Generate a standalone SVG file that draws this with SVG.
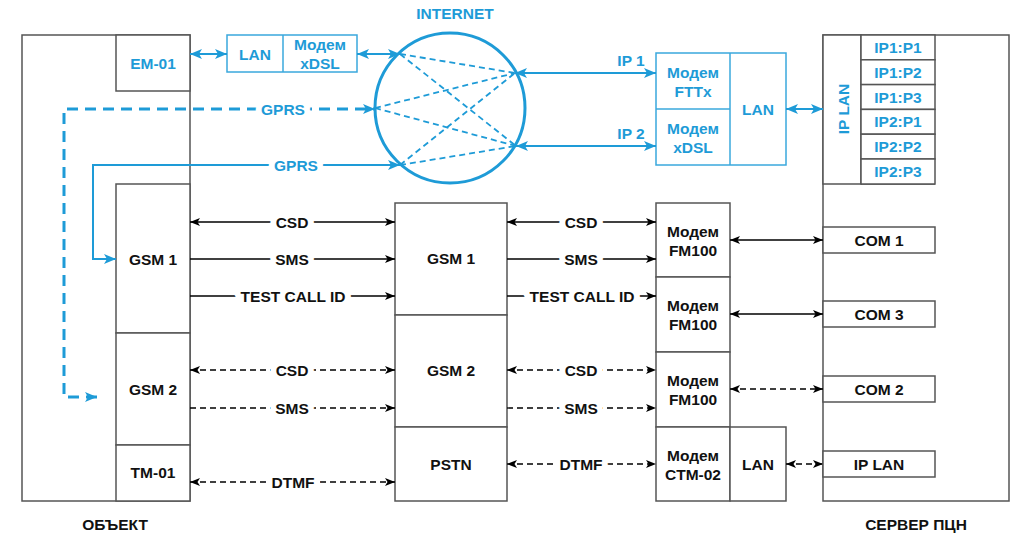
<svg xmlns="http://www.w3.org/2000/svg" width="1024" height="549" viewBox="0 0 1024 549">
<style>
text{font-family:"Liberation Sans",Arial,sans-serif;font-weight:bold;font-size:15.5px;text-anchor:middle;dominant-baseline:central}
.k{fill:#111}
.b{fill:#1e9bd7}
.box{fill:#fff;stroke:#555;stroke-width:1.5}
.bbox{fill:#fff;stroke:#3aa8dd;stroke-width:1.5}
.c{fill:none;stroke:#000;stroke-width:1.3}
.d{stroke-dasharray:6 4}
.bl{fill:none;stroke:#1e9bd7;stroke-width:2}
.bd{fill:none;stroke:#1e9bd7;stroke-width:1.8;stroke-dasharray:6 4}
.gd{fill:none;stroke:#1e9bd7;stroke-width:3;stroke-dasharray:11 7}
.lbl{paint-order:stroke;stroke:#fff;stroke-width:12px;stroke-linejoin:round}
</style>
<defs>
<marker id="ak" viewBox="0 0 10 8" refX="10" refY="4" markerWidth="10" markerHeight="8" markerUnits="userSpaceOnUse" orient="auto-start-reverse"><path d="M0,0 L10,4 L0,8 L2.5,4 z" fill="#000"/></marker>
<marker id="ab" viewBox="0 0 12 10" refX="12" refY="5" markerWidth="12" markerHeight="10" markerUnits="userSpaceOnUse" orient="auto-start-reverse"><path d="M0,0 L12,5 L0,10 L3,5 z" fill="#1e9bd7"/></marker>
</defs>
<rect width="1024" height="549" fill="#fff"/>

<g id="object">
<rect class="box" x="22" y="35" width="168" height="466"/>
<text class="k" x="115" y="524">ОБЪЕКТ</text>
</g>
<g id="em01"><rect class="box" x="116" y="35" width="74" height="56"/><text class="b" x="153" y="63">EM-01</text></g>
<g id="gsm1-obj"><rect class="box" x="116" y="184" width="74" height="149"/><text class="k" x="153" y="259">GSM 1</text></g>
<g id="gsm2-obj"><rect class="box" x="116" y="333" width="74" height="112"/><text class="k" x="153" y="389">GSM 2</text></g>
<g id="tm01"><rect class="box" x="116" y="445" width="74" height="56"/><text class="k" x="153" y="472">TM-01</text></g>

<g id="gsm1-mid"><rect class="box" x="395" y="203" width="112" height="112"/><text class="k" x="451" y="258">GSM 1</text></g>
<g id="gsm2-mid"><rect class="box" x="395" y="315" width="112" height="112"/><text class="k" x="451" y="370">GSM 2</text></g>
<g id="pstn"><rect class="box" x="395" y="427" width="112" height="74"/><text class="k" x="451" y="464">PSTN</text></g>

<g id="fm100-1"><rect class="box" x="656" y="203" width="74" height="74"/><text class="k" x="693" y="231">Модем</text><text class="k" x="693" y="250">FM100</text></g>
<g id="fm100-2"><rect class="box" x="656" y="277" width="74" height="75"/><text class="k" x="693" y="305">Модем</text><text class="k" x="693" y="324">FM100</text></g>
<g id="fm100-3"><rect class="box" x="656" y="352" width="74" height="75"/><text class="k" x="693" y="380">Модем</text><text class="k" x="693" y="399">FM100</text></g>
<g id="ctm02"><rect class="box" x="656" y="427" width="74" height="74"/><text class="k" x="693" y="455">Модем</text><text class="k" x="693" y="474">CTM-02</text></g>
<g id="lan-ctm"><rect class="box" x="730" y="427" width="56" height="74"/><text class="k" x="758" y="464">LAN</text></g>

<g id="server">
<rect class="box" x="823" y="35" width="186" height="466"/>
<text class="k" x="916" y="524">СЕРВЕР ПЦН</text>
</g>
<g id="iplan-top">
<rect class="box" x="823" y="35" width="38" height="149"/>
<line x1="861" y1="184" x2="935" y2="184" stroke="#555" stroke-width="1.5"/>
<text class="b" transform="translate(843 109) rotate(-90)">IP LAN</text>
</g>
<g id="ip-ports">
<rect class="box" x="861" y="35" width="74" height="24.8"/><text class="b" x="898" y="47.5">IP1:P1</text>
<rect class="box" x="861" y="59.8" width="74" height="24.8"/><text class="b" x="898" y="72.3">IP1:P2</text>
<rect class="box" x="861" y="84.6" width="74" height="24.8"/><text class="b" x="898" y="97.1">IP1:P3</text>
<rect class="box" x="861" y="109.4" width="74" height="24.8"/><text class="b" x="898" y="121.9">IP2:P1</text>
<rect class="box" x="861" y="134.2" width="74" height="24.8"/><text class="b" x="898" y="146.7">IP2:P2</text>
<rect class="box" x="861" y="159" width="74" height="25"/><text class="b" x="898" y="171.5">IP2:P3</text>
</g>
<g id="com1"><rect class="box" x="823" y="227" width="112" height="26"/><text class="k" x="879" y="240">COM 1</text></g>
<g id="com3"><rect class="box" x="823" y="301" width="112" height="26"/><text class="k" x="879" y="314">COM 3</text></g>
<g id="com2"><rect class="box" x="823" y="376" width="112" height="26"/><text class="k" x="879" y="389">COM 2</text></g>
<g id="iplan-port"><rect class="box" x="823" y="451" width="112" height="26"/><text class="k" x="879" y="464">IP LAN</text></g>

<g id="lan-xdsl-obj">
<rect class="bbox" x="227" y="35" width="130" height="37"/>
<line x1="283" y1="35" x2="283" y2="72" stroke="#3aa8dd" stroke-width="1.5"/>
<text class="b" x="255" y="54">LAN</text>
<text class="b" x="320" y="44">Модем</text>
<text class="b" x="320" y="63">xDSL</text>
</g>

<g id="internet">
<circle cx="450" cy="108" r="75" fill="none" stroke="#1e9bd7" stroke-width="3"/>
<text class="b" x="455" y="13">INTERNET</text>
</g>

<g id="modems-server">
<rect class="bbox" x="656" y="53" width="130" height="112"/>
<line x1="730" y1="53" x2="730" y2="165" stroke="#3aa8dd" stroke-width="1.5"/>
<line x1="656" y1="109" x2="730" y2="109" stroke="#3aa8dd" stroke-width="1.5"/>
<text class="b" x="693" y="72">Модем</text>
<text class="b" x="693" y="91">FTTx</text>
<text class="b" x="693" y="128">Модем</text>
<text class="b" x="693" y="147">xDSL</text>
<text class="b" x="758" y="109">LAN</text>
</g>

<g id="connectors">
<line class="bd" x1="400" y1="54" x2="515" y2="73"/>
<line class="bd" x1="400" y1="54" x2="516" y2="146"/>
<line class="bd" x1="375" y1="108" x2="515" y2="73"/>
<line class="bd" x1="375" y1="108" x2="516" y2="146"/>
<line class="bd" x1="400" y1="165" x2="515" y2="73"/>
<line class="bd" x1="400" y1="165" x2="516" y2="146"/>
<line class="bl" x1="190" y1="54" x2="227" y2="54" marker-start="url(#ab)" marker-end="url(#ab)"/>
<line class="bl" x1="357" y1="54" x2="400" y2="54" marker-start="url(#ab)" marker-end="url(#ab)"/>
<path class="gd" d="M97,397 H64 V109 H375" marker-start="url(#ab)" marker-end="url(#ab)"/>
<text class="b lbl" x="283" y="109">GPRS</text>
<path class="bl" d="M400,165 H93 V259 H116" marker-start="url(#ab)" marker-end="url(#ab)"/>
<text class="b lbl" x="296" y="165">GPRS</text>
<line class="bl" x1="515" y1="73" x2="656" y2="73" marker-start="url(#ab)" marker-end="url(#ab)"/>
<text class="b" x="631" y="60">IP 1</text>
<line class="bl" x1="516" y1="146" x2="656" y2="146" marker-start="url(#ab)" marker-end="url(#ab)"/>
<text class="b" x="631" y="133">IP 2</text>
<line class="bl" x1="786" y1="109" x2="823" y2="109" marker-start="url(#ab)" marker-end="url(#ab)"/>
<line class="c" x1="190" y1="222" x2="395" y2="222" marker-start="url(#ak)" marker-end="url(#ak)"/>
<text class="k lbl" x="292" y="222">CSD</text>
<line class="c" x1="190" y1="259" x2="395" y2="259" marker-end="url(#ak)"/>
<text class="k lbl" x="292" y="259">SMS</text>
<line class="c" x1="190" y1="296" x2="395" y2="296" marker-end="url(#ak)"/>
<text class="k lbl" x="293" y="296">TEST CALL ID</text>
<line class="c" x1="507" y1="222" x2="656" y2="222" marker-start="url(#ak)" marker-end="url(#ak)"/>
<text class="k lbl" x="581" y="222">CSD</text>
<line class="c" x1="507" y1="259" x2="656" y2="259" marker-end="url(#ak)"/>
<text class="k lbl" x="581" y="259">SMS</text>
<line class="c" x1="507" y1="296" x2="656" y2="296" marker-end="url(#ak)"/>
<text class="k lbl" x="582" y="296">TEST CALL ID</text>
<line class="c" x1="730" y1="240" x2="823" y2="240" marker-start="url(#ak)" marker-end="url(#ak)"/>
<line class="c" x1="730" y1="314" x2="823" y2="314" marker-start="url(#ak)" marker-end="url(#ak)"/>
<line class="c d" x1="730" y1="389" x2="823" y2="389" marker-start="url(#ak)" marker-end="url(#ak)"/>
<line class="c d" x1="786" y1="464" x2="823" y2="464" marker-start="url(#ak)" marker-end="url(#ak)"/>
<line class="c d" x1="190" y1="370" x2="395" y2="370" marker-start="url(#ak)" marker-end="url(#ak)"/>
<text class="k lbl" x="292" y="370">CSD</text>
<line class="c d" x1="190" y1="408" x2="395" y2="408" marker-end="url(#ak)"/>
<text class="k lbl" x="292" y="408">SMS</text>
<line class="c d" x1="190" y1="482" x2="395" y2="482" marker-start="url(#ak)" marker-end="url(#ak)"/>
<text class="k lbl" x="293" y="482">DTMF</text>
<line class="c d" x1="507" y1="370" x2="656" y2="370" marker-start="url(#ak)" marker-end="url(#ak)"/>
<text class="k lbl" x="581" y="370">CSD</text>
<line class="c d" x1="507" y1="408" x2="656" y2="408" marker-end="url(#ak)"/>
<text class="k lbl" x="581" y="408">SMS</text>
<line class="c d" x1="507" y1="464" x2="656" y2="464" marker-start="url(#ak)" marker-end="url(#ak)"/>
<text class="k lbl" x="581" y="464">DTMF</text>
</g>
</svg>
